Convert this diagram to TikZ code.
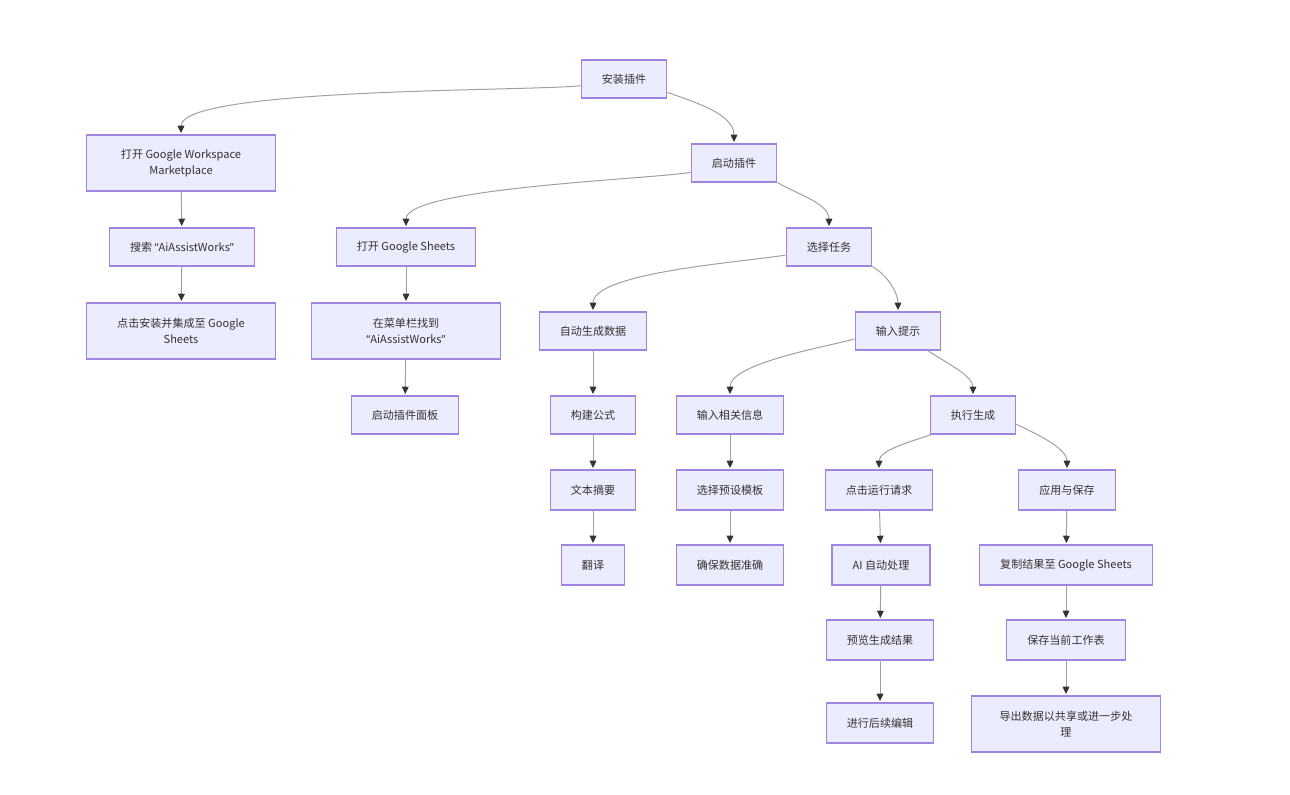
\documentclass[tikz,border=0pt]{standalone}
\usepackage{fontspec}
\setmainfont{Noto Sans CJK SC}
\newfontfamily\latq{Noto Sans}
\usepackage{tikz}
\usetikzlibrary{arrows.meta,positioning}
\definecolor{mmFill}{HTML}{ECECFF}
\definecolor{mmLine}{HTML}{9F84E0}
\definecolor{mmEdge}{HTML}{A0A0A0}
\definecolor{mmTip}{HTML}{333333}
\definecolor{mmText}{HTML}{333333}
\newcommand{\aiw}{{\latq “}AiAssistWorks{\latq ”}}

\begin{document}
\begin{tikzpicture}[x=0.75pt,y=-0.75pt,
    box/.style={draw=mmLine, fill=mmFill, line width=0.9pt, text=mmText,
      font=\fontsize{8.3}{12}\selectfont, align=center,
      inner xsep=15.5pt, inner ysep=6pt, minimum height=28.5pt},
    tall/.style={minimum height=30pt},
    wide/.style={minimum width=142pt, minimum height=42pt},
    edge/.style={draw=mmEdge, line width=0.75pt,
      -{Triangle[length=5.5pt,width=5pt,color=mmTip]}, shorten >=1pt}]
  \useasboundingbox (0,0) rectangle (1290,795);

  % top levels
  \node[box] (install) at (624,79) {安装插件};
  \node[box,wide] (openMkt) at (181,163) {打开 Google Workspace\\Marketplace};
  \node[box] (launch) at (734,163) {启动插件};
  \node[box] (search) at (182,247) {搜索 \aiw};
  \node[box] (openSheets) at (406,247) {打开 Google Sheets};
  \node[box] (choose) at (829,247) {选择任务};
  \node[box,wide] (clickInstall) at (181,331) {点击安装并集成至 Google\\Sheets};
  \node[box,wide] (findMenu) at (406,331) {在菜单栏找到\\\aiw};
  \node[box] (autoGen) at (593,331) {自动生成数据};
  \node[box] (prompt) at (898,331) {输入提示};
  \node[box] (panel) at (405,415) {启动插件面板};
  \node[box] (formula) at (593,415) {构建公式};
  \node[box] (inputInfo) at (730,415) {输入相关信息};
  \node[box] (execute) at (973,415) {执行生成};

  % lower levels
  \node[box,tall] (summary) at (593,490) {文本摘要};
  \node[box,tall] (template) at (730,490) {选择预设模板};
  \node[box,tall] (run) at (879,490) {点击运行请求};
  \node[box,tall] (apply) at (1067,490) {应用与保存};
  \node[box,tall] (translate) at (593,565) {翻译};
  \node[box,tall] (accurate) at (730,565) {确保数据准确};
  \node[box,tall] (aiProc) at (881,565) {AI 自动处理};
  \node[box,tall] (copy) at (1066,565) {复制结果至 Google Sheets};
  \node[box,tall] (preview) at (880,640) {预览生成结果};
  \node[box,tall] (save) at (1066,640) {保存当前工作表};
  \node[box,tall] (edit) at (880,723) {进行后续编辑};
  \node[box,wide] (export) at (1066,724) {导出数据以共享或进一步处\\理};

  % branching connectors
  \draw[edge] ([yshift=-5pt]install.west) to[out=187,in=90,looseness=0.3] (openMkt.north);
  \draw[edge] ([yshift=-10pt]install.east) to[out=-20,in=90,looseness=0.9] (launch.north);
  \draw[edge] ([yshift=-7pt]launch.west) to[out=190,in=90,looseness=0.35] (openSheets.north);
  \draw[edge] (launch.south east) to[out=-30,in=90,looseness=0.9] (choose.north);
  \draw[edge] ([yshift=-6pt]choose.west) to[out=190,in=90,looseness=0.5] (autoGen.north);
  \draw[edge] (choose.south east) to[out=-30,in=90,looseness=0.9] (prompt.north);
  \draw[edge] ([yshift=-6pt]prompt.west) to[out=195,in=90,looseness=0.6] (inputInfo.north);
  \draw[edge] ([xshift=-10pt]prompt.south east) to[out=-35,in=90,looseness=0.8] (execute.north);
  \draw[edge] ([xshift=1pt]execute.south west) to[out=200,in=90,looseness=0.8] (run.north);
  \draw[edge] ([yshift=-7pt]execute.east) to[out=-25,in=90,looseness=0.8] (apply.north);

  % straight chains
  \foreach \a/\b in {openMkt/search, search/clickInstall, openSheets/findMenu,
      findMenu/panel, autoGen/formula, formula/summary, summary/translate,
      inputInfo/template, template/accurate, run/aiProc, aiProc/preview,
      preview/edit, apply/copy, copy/save, save/export}
    \draw[edge] (\a) -- (\b);
\end{tikzpicture}
\end{document}
